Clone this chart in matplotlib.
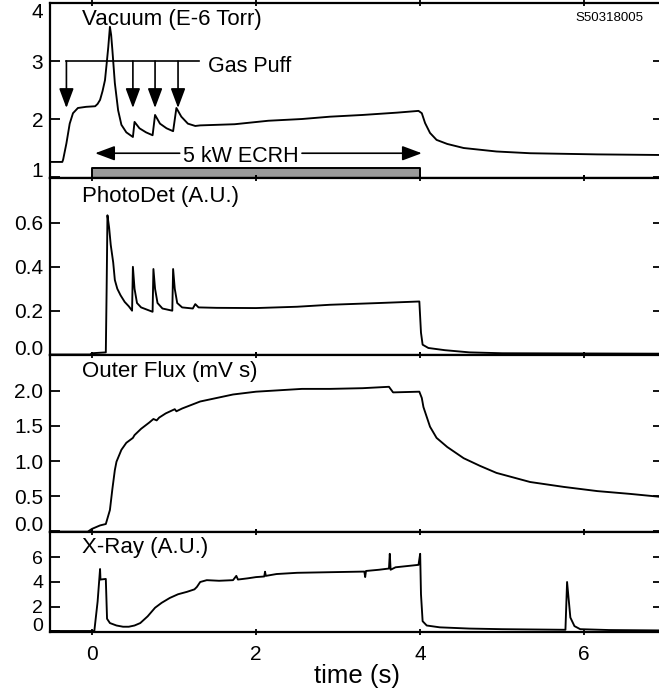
import matplotlib
matplotlib.use('Agg')
import matplotlib.pyplot as plt

plt.rcParams['font.family'] = ['Liberation Sans', 'DejaVu Sans']

# --- data (time in s) ---
vac_t = [-0.51, -0.36, -0.35, -0.31, -0.27, -0.23, -0.17, -0.07, 0.04, 0.07, 0.10, 0.13, 0.16,
         0.18, 0.20, 0.22, 0.235, 0.25, 0.28, 0.32, 0.36, 0.42, 0.50, 0.52, 0.58, 0.66, 0.74,
         0.77, 0.83, 0.91, 0.99, 1.03, 1.09, 1.17, 1.26, 1.32, 1.74, 2.15, 2.56, 2.90, 3.30,
         3.72, 3.98, 4.02, 4.06, 4.12, 4.20, 4.33, 4.53, 4.93, 5.34, 6.16, 6.91]
vac_v = [1.26, 1.26, 1.30, 1.58, 1.92, 2.10, 2.19, 2.21, 2.22, 2.26, 2.33, 2.48, 2.67,
         2.95, 3.24, 3.59, 3.45, 3.19, 2.62, 2.15, 1.90, 1.77, 1.69, 1.95, 1.84, 1.77, 1.72,
         2.07, 1.92, 1.84, 1.79, 2.19, 2.04, 1.92, 1.88, 1.89, 1.91, 1.97, 2.00, 2.04, 2.07,
         2.11, 2.14, 2.10, 1.93, 1.76, 1.64, 1.57, 1.50, 1.44, 1.41, 1.39, 1.38]

pd_t = [-0.51, -0.02, 0.0, 0.17, 0.18, 0.19, 0.21, 0.23, 0.26, 0.28, 0.31, 0.35, 0.40, 0.45,
        0.49, 0.50, 0.52, 0.55, 0.60, 0.67, 0.74, 0.75, 0.77, 0.80, 0.86, 0.98, 0.99, 1.01,
        1.04, 1.10, 1.23, 1.26, 1.30, 1.52, 2.00, 2.50, 2.90, 3.50, 3.99, 4.01, 4.03, 4.10,
        4.30, 4.60, 5.00, 6.91]
pd_v = [0.0, 0.0, 0.006, 0.010, 0.30, 0.635, 0.58, 0.50, 0.42, 0.34, 0.30, 0.27, 0.24, 0.22,
        0.20, 0.40, 0.30, 0.235, 0.215, 0.205, 0.195, 0.39, 0.30, 0.235, 0.21, 0.20, 0.39, 0.30,
        0.235, 0.215, 0.21, 0.23, 0.215, 0.213, 0.212, 0.218, 0.227, 0.235, 0.242, 0.10, 0.045, 0.03,
        0.02, 0.01, 0.006, 0.004]

flux_t = [-0.51, -0.05, 0.0, 0.10, 0.17, 0.19, 0.22, 0.25, 0.28, 0.30, 0.36, 0.42, 0.50, 0.52,
          0.60, 0.70, 0.75, 0.79, 0.82, 0.90, 1.01, 1.03, 1.10, 1.32, 1.72, 2.00, 2.56, 2.90,
          3.30, 3.62, 3.67, 3.99, 4.02, 4.04, 4.12, 4.20, 4.33, 4.53, 4.73, 4.93, 5.34, 5.75,
          6.16, 6.56, 6.91]
flux_v = [-0.01, -0.01, 0.03, 0.08, 0.10, 0.18, 0.30, 0.60, 0.87, 0.99, 1.16, 1.26, 1.33, 1.37,
          1.46, 1.55, 1.60, 1.58, 1.62, 1.68, 1.74, 1.71, 1.75, 1.85, 1.95, 1.99, 2.03, 2.03,
          2.04, 2.06, 1.98, 1.99, 1.90, 1.77, 1.49, 1.33, 1.20, 1.04, 0.93, 0.83, 0.70, 0.63,
          0.57, 0.53, 0.49]

xray_t = [-0.51, 0.03, 0.07, 0.10, 0.105, 0.17, 0.185, 0.22, 0.30, 0.38, 0.45, 0.52, 0.59,
          0.68, 0.77, 0.85, 0.95, 1.05, 1.16, 1.25, 1.28, 1.32, 1.40, 1.55, 1.72, 1.76, 1.78,
          1.90, 2.00, 2.10, 2.11, 2.12, 2.25, 2.50, 2.90, 3.32, 3.33, 3.34, 3.50, 3.62, 3.63,
          3.64, 3.70, 3.98, 4.00, 4.01, 4.03, 4.08, 4.24, 4.60, 5.00, 5.77, 5.79, 5.83, 5.88,
          5.95, 6.30, 6.91]
xray_v = [0.0, 0.0, 2.4, 5.06, 4.2, 4.25, 1.0, 0.65, 0.45, 0.35, 0.35, 0.45, 0.65,
          1.2, 1.9, 2.3, 2.7, 3.0, 3.2, 3.4, 3.6, 4.0, 4.15, 4.1, 4.15, 4.5, 4.2,
          4.3, 4.4, 4.45, 4.84, 4.5, 4.65, 4.75, 4.8, 4.85, 4.4, 4.9, 5.0, 5.1, 6.3,
          5.0, 5.2, 5.4, 6.3, 3.0, 0.8, 0.45, 0.3, 0.2, 0.15, 0.1, 4.0, 1.1, 0.4,
          0.15, 0.08, 0.05]

puff_times = [-0.31, 0.50, 0.77, 1.05]
ecrh_on, ecrh_off = 0.0, 4.0

labels = ['Vacuum (E-6 Torr)', 'PhotoDet (A.U.)', 'Outer Flux (mV s)', 'X-Ray (A.U.)']
yticks = [[1, 2, 3, 4], [0.0, 0.2, 0.4, 0.6], [0.0, 0.5, 1.0, 1.5, 2.0], [0, 2, 4, 6]]
yticklabels = [['1', '2', '3', '4'], ['0.0', '0.2', '0.4', '0.6'],
               ['0.0', '0.5', '1.0', '1.5', '2.0'], ['0', '2', '4', '6']]
ylims = [(0.983, 4.0), (-0.002, 0.805), (-0.014, 2.514), (-0.08, 8.08)]
series = [(vac_t, vac_v), (pd_t, pd_v), (flux_t, flux_v), (xray_t, xray_v)]

W, H = 659, 694
fig = plt.figure(figsize=(W / 100, H / 100), dpi=100)
panels = [(3, 178), (178, 355), (355, 532), (532, 632)]
label_y = [0.874, 0.864, 0.876, 0.79]

axes = []
for i, (top, bot) in enumerate(panels):
    ax = fig.add_axes([50 / W, 1 - bot / H, 609 / W, (bot - top) / H])
    t, v = series[i]
    ax.plot(t, v, color='black', lw=1.35)
    ax.set_xlim(-0.51, 6.91)
    ax.set_ylim(*ylims[i])
    ax.set_xticks([0, 2, 4, 6])
    ax.set_yticks(yticks[i])
    ax.set_yticklabels(yticklabels[i])
    for s in ['left', 'top', 'bottom']:
        ax.spines[s].set_linewidth(1.6)
    ax.spines['right'].set_visible(False)
    ax.tick_params(axis='y', which='both', left=True, right=True, direction='in',
                   length=7, width=1.3, labelsize=15 if i < 3 else 14, pad=5)
    ax.tick_params(axis='x', which='both', top=True, bottom=True, direction='inout',
                   length=5, width=1.3, labelsize=15, pad=7, labelbottom=(i == 3))
    # lowest label sits on the bottom spine, as in the original
    ax.get_yticklabels()[0].set_verticalalignment('baseline')
    ax.text(0.0525, label_y[i], labels[i], transform=ax.transAxes, fontsize=16,
            ha='left', va='baseline')
    axes.append(ax)

# right-side ticks are shorter
for ax in axes:
    for tk in ax.yaxis.get_major_ticks():
        tk.tick2line.set_markersize(4)

ax1 = axes[0]
ax1.get_yticklabels()[-1].set_verticalalignment('top')
ax1.text(0.974, 0.897, 'S50318005', transform=ax1.transAxes, fontsize=9.5,
         ha='right', va='baseline')

# gas puff markers
ax1.plot([puff_times[0], 1.30], [3.0, 3.0], color='black', lw=1.2)
for tp in puff_times:
    ax1.annotate('', xy=(tp, 2.19), xytext=(tp, 3.0),
                 arrowprops=dict(arrowstyle='-|>,head_length=0.75,head_width=0.28',
                                 color='black', lw=1.2, mutation_scale=16,
                                 shrinkA=0, shrinkB=0))
ax1.text(1.415, 2.81, 'Gas Puff', fontsize=15.5, ha='left', va='baseline')

# ECRH pulse
ax1.fill_between([ecrh_on, ecrh_off], 0.983, 1.155, color='#9a9a9a', lw=0)
ax1.plot([ecrh_on, ecrh_on, ecrh_off, ecrh_off], [0.983, 1.155, 1.155, 0.983],
         color='black', lw=1.4, zorder=3)
arrow_kw = dict(arrowstyle='-|>,head_length=0.75,head_width=0.28', color='black',
                lw=1.2, mutation_scale=16, shrinkA=0, shrinkB=0)
ax1.annotate('', xy=(ecrh_on + 0.04, 1.41), xytext=(1.07, 1.41), arrowprops=arrow_kw)
ax1.annotate('', xy=(ecrh_off + 0.02, 1.41), xytext=(2.56, 1.41), arrowprops=arrow_kw)
ax1.text(1.81, 1.26, '5 kW ECRH', fontsize=15.5, ha='center', va='baseline')

fig.text(357 / W, 1 - 683 / H, 'time (s)', fontsize=18.5, ha='center', va='baseline')

fig.savefig('out.png', dpi=100)
